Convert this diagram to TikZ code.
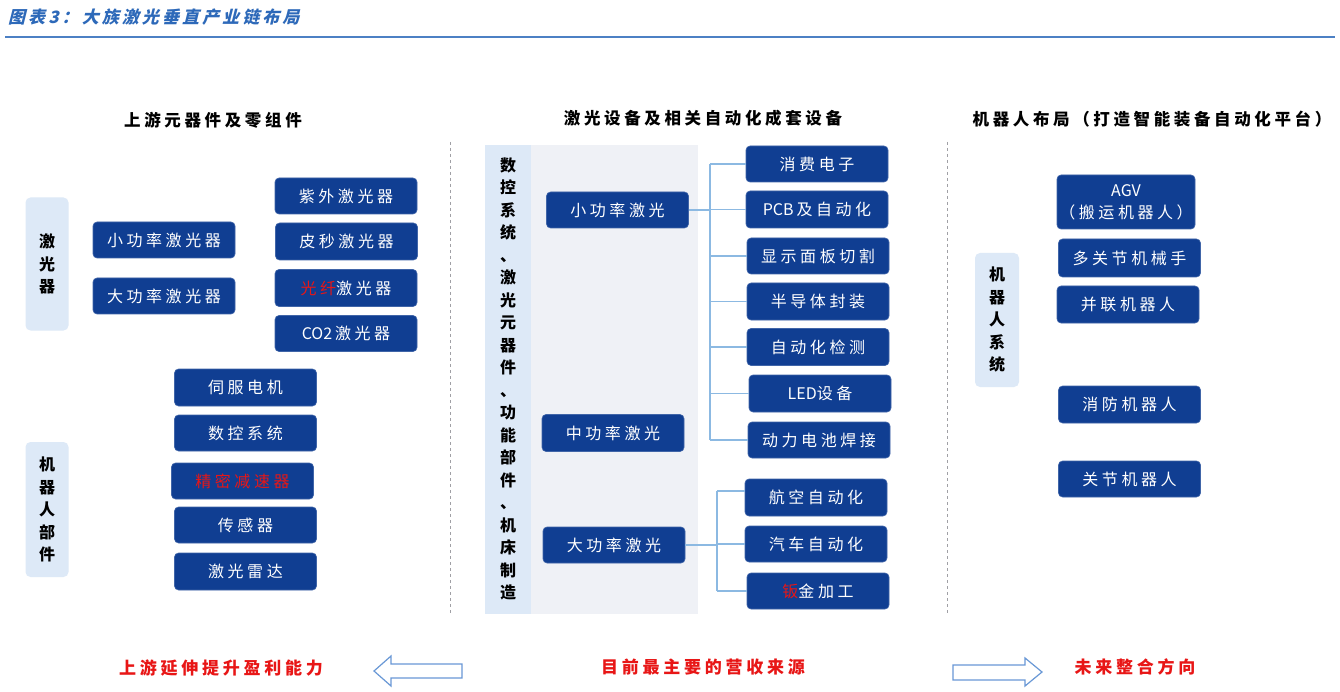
\documentclass[tikz,border=0pt]{standalone}
\usepackage{fontspec}
\newfontfamily\cjk[LetterSpace=22]{Noto Sans CJK SC}
\newfontfamily\cjkn{Noto Sans CJK SC}
\newfontfamily\cjkt[FakeSlant=0.25,LetterSpace=18]{Noto Sans CJK SC}
\newcommand\lat[1]{{\cjkn #1}\hspace{3pt}}
\definecolor{boxblue}{RGB}{16,62,146}
\definecolor{lightlbl}{RGB}{221,233,247}
\definecolor{panelc}{RGB}{239,241,246}
\definecolor{stripc}{RGB}{221,233,247}
\definecolor{connc}{RGB}{140,185,226}
\definecolor{titleblue}{RGB}{45,105,185}
\definecolor{redc}{RGB}{232,22,22}
\definecolor{arrowc}{RGB}{105,152,214}
\definecolor{dashc}{RGB}{160,160,165}
\tikzset{
  bx/.style={fill=boxblue, draw=boxblue!80!white, line width=0.6pt, rounded corners=4pt, text=white,
    font=\cjk\fontsize{16}{18}\selectfont, minimum width=142pt, minimum height=36pt, inner sep=0pt},
  lbl/.style={fill=lightlbl, rounded corners=5pt, minimum width=43pt, inner sep=0pt,
    font=\cjkn\bfseries\fontsize{16}{22.5}\selectfont, align=center},
  vtext/.style={font=\cjkn\bfseries\fontsize{16}{22.5}\selectfont, align=center, inner sep=0pt},
  head/.style={font=\cjk\bfseries\fontsize{16.5}{20}\selectfont, inner sep=0pt},
  redtxt/.style={text=redc, font=\cjk\bfseries\fontsize{17}{20}\selectfont, inner sep=0pt},
  conn/.style={draw=connc, line width=1.5pt},
  dashline/.style={draw=dashc, line width=1pt, dash pattern=on 3pt off 3pt},
  blockarrow/.style={draw=arrowc, line width=1.2pt, fill=white},
}
\begin{document}
\begin{tikzpicture}[x=1pt,y=-1pt]
\useasboundingbox (0,0) rectangle (1340,692);
\fill[white] (0,0) rectangle (1340,692);

% title
\node[anchor=west, inner sep=0pt, text=titleblue, font=\cjkt\bfseries\fontsize{17}{20}\selectfont] (title) at (8,17) {图表3：大族激光垂直产业链布局};
\coordinate (tl1) at (5,37);
\coordinate (tl2) at (1335,37);
\draw[titleblue!85!white, line width=2pt] (tl1) -- (tl2);

% headings
\node[head] (h1) at (213,120) {上游元器件及零组件};
\node[head] (h2) at (703,118) {激光设备及相关自动化成套设备};
\node[head] (h3) at (1152,119) {机器人布局（打造智能装备自动化平台）};

% dashed separators
\coordinate (d1t) at (450,142);
\coordinate (d1b) at (450,615);
\coordinate (d2t) at (947,142);
\coordinate (d2b) at (947,615);
\draw[dashline] (d1t) -- (d1b);
\draw[dashline] (d2t) -- (d2b);

% ---------- left ----------
\node[lbl, minimum height=133pt] (lasl) at (47,264) {激\\光\\器};
\node[bx] (l1) at (164,240) {小功率激光器};
\node[bx] (l2) at (164,296) {大功率激光器};
\node[bx] (l3) at (346,196) {紫外激光器};
\node[bx, minimum height=37pt] (l4) at (346.5,241.5) {皮秒激光器};
\node[bx, minimum height=37pt] (l5) at (346,288) {\textcolor{redc}{光纤}激光器};
\node[bx] (l6) at (346,333.5) {\lat{CO2}激光器};

\node[lbl, minimum height=135pt] (robl) at (47,509.5) {机\\器\\人\\部\\件};
\node[bx, minimum height=37pt] (r1) at (245.5,387.5) {伺服电机};
\node[bx] (r2) at (245.5,433) {数控系统};
\node[bx] (r3) at (242.5,481) {\textcolor{redc}{精密减速器}};
\node[bx] (r4) at (245.5,525) {传感器};
\node[bx, minimum height=37pt] (r5) at (245.5,571.5) {激光雷达};

% ---------- center ----------
\fill[panelc] (485,145) rectangle (698,614);
\fill[stripc] (485,145) rectangle (531,614);
\node[vtext] (cv) at (508,379) {数\\控\\系\\统\\、\\激\\光\\元\\器\\件\\、\\功\\能\\部\\件\\、\\机\\床\\制\\造};

\node[bx] (sp) at (617.5,210) {小功率激光};
\node[bx, minimum height=37pt] (mp) at (613,433) {中功率激光};
\node[bx] (bp) at (614,545) {大功率激光};

\node[bx] (a1) at (817,164) {消费电子};
\node[bx, minimum height=37pt] (a2) at (817,209.5) {\lat{PCB}及自动化};
\node[bx] (a3) at (818,256) {显示面板切割};
\node[bx, minimum height=37pt] (a4) at (818,301.5) {半导体封装};
\node[bx, minimum height=37pt] (a5) at (818,347) {自动化检测};
\node[bx, minimum height=37pt] (a6) at (820,393.5) {{\cjkn LED}设备};
\node[bx] (a7) at (819,440) {动力电池焊接};
\node[bx, minimum height=37pt] (b1) at (816,497.5) {航空自动化};
\node[bx] (b2) at (816,544) {汽车自动化};
\node[bx] (b3) at (818,591) {\textcolor{redc}{钣}金加工};

\coordinate (ut) at (710,164);
\coordinate (ub) at (710,440);
\coordinate (lt) at (717,491);
\coordinate (lb) at (717,591);
\draw[conn] (ut) -- (ub);
\draw[conn] (lt) -- (lb);
\draw[conn] (sp.east) -- (sp.east -| ut);
\foreach \n in {a1,a2,a3,a4,a5,a6,a7} \draw[conn] (\n.west) -- (\n.west -| ut);
\draw[conn] (bp.east) -- (bp.east -| lt);
\draw[conn] (lt) -- (b1.west |- lt);
\draw[conn] (b2.west) -- (b2.west -| lt);
\draw[conn] (lb) -- (b3.west |- lb);

% ---------- right ----------
\node[lbl, minimum width=44pt, minimum height=134pt] (rsl) at (997,320) {机\\器\\人\\系\\统};
\node[bx, minimum width=138pt, minimum height=54pt, align=center, font=\cjk\fontsize{16}{22}\selectfont] (g1) at (1126,202) {{\cjkn AGV}\\（搬运机器人）};
\node[bx, minimum height=38pt] (g2) at (1129.5,258) {多关节机械手};
\node[bx, minimum height=37pt] (g3) at (1128,304.5) {并联机器人};
\node[bx, minimum height=37pt] (g4) at (1129.5,404.5) {消防机器人};
\node[bx] (g5) at (1129.5,479) {关节机器人};

% ---------- bottom ----------
\node[redtxt] (bt1) at (221,668) {上游延伸提升盈利能力};
\node[redtxt] (bt2) at (703,667) {目前最主要的营收来源};
\node[redtxt] (bt3) at (1135,667) {未来整合方向};

\draw[blockarrow] (374,671) -- (391,656) -- (391,664) -- (462,664) -- (462,678) -- (391,678) -- (391,686) -- cycle;
\draw[blockarrow] (1042,672) -- (1025,658) -- (1025,665) -- (953,665) -- (953,680) -- (1025,680) -- (1025,686) -- cycle;
\end{tikzpicture}
\end{document}
